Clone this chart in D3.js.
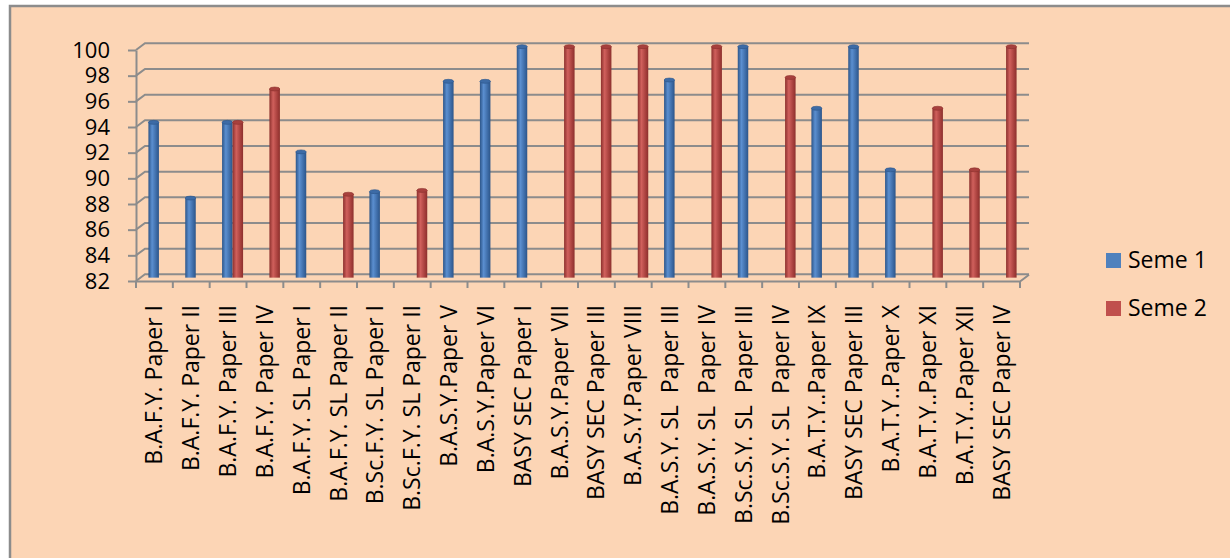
<!DOCTYPE html>
<html>
<head>
<meta charset="utf-8">
<script src="https://cdn.jsdelivr.net/npm/d3@7"></script>
<style>
  body { margin: 0; background: #fff; }
  text { font-family: "Open Sans", "Noto Sans", sans-serif; fill: #000; }
</style>
</head>
<body>
<div id="chart"></div>
<script>
const categories = [
  "B.A.F.Y. Paper I", "B.A.F.Y. Paper II", "B.A.F.Y. Paper III", "B.A.F.Y. Paper IV",
  "B.A.F.Y. SL Paper I", "B.A.F.Y. SL Paper II", "B.Sc.F.Y. SL Paper I", "B.Sc.F.Y. SL Paper II",
  "B.A.S.Y.Paper V", "B.A.S.Y.Paper VI", "BASY SEC Paper I", "B.A.S.Y.Paper VII",
  "BASY SEC Paper III", "B.A.S.Y.Paper VIII", "B.A.S.Y. SL  Paper III", "B.A.S.Y. SL  Paper IV",
  "B.Sc.S.Y. SL  Paper III", "B.Sc.S.Y. SL  Paper IV", "B.A.T.Y..Paper IX", "BASY SEC Paper III",
  "B.A.T.Y..Paper X", "B.A.T.Y..Paper XI", "B.A.T.Y..Paper XII", "BASY SEC Paper IV"
];
const seme1 = [94.1, 88.2, 94.1, null, 91.8, null, 88.7, null, 97.3, 97.3, 100, null,
               null, null, 97.4, null, 100, null, 95.2, 100, 90.4, null, null, null];
const seme2 = [null, null, 94.1, 96.7, null, 88.5, null, 88.8, null, null, null, 100,
               100, 100, null, 100, null, 97.6, null, null, null, 95.2, 90.4, 100];
const seriesNames = ["Seme 1", "Seme 2"];
const yTicks = [82, 84, 86, 88, 90, 92, 94, 96, 98, 100];

const width = 1230, height = 558;
const plotLeft = 136, plotRight = 1020, plotTop = 50, plotBottom = 281;
const dx = 9, dy = -6.7;   // 3d depth offset
const grid = "#8c8c8c";
const colors = { "Seme 1": ["#2c5589", "#5b8fd0", "#3d6ba6"], "Seme 2": ["#8c302d", "#d0605c", "#a8403d"] };
const fontSize = 23;

const svg = d3.select("#chart").append("svg")
  .attr("width", width)
  .attr("height", height)

svg.append("rect")
  .attr("x", 10).attr("y", 6)
  .attr("width", width + 10).attr("height", height + 10)
  .attr("fill", "#FCD5B5")
  .attr("stroke", grid).attr("stroke-width", 2.5)

const defs = svg.append("defs")
seriesNames.forEach((s, i) => {
  const g = defs.append("linearGradient").attr("id", "cyl" + i)
    .attr("x1", 0).attr("x2", 1).attr("y1", 0).attr("y2", 0)
  g.append("stop").attr("offset", "0%").attr("stop-color", colors[s][0])
  g.append("stop").attr("offset", "35%").attr("stop-color", colors[s][1])
  g.append("stop").attr("offset", "75%").attr("stop-color", colors[s][2])
  g.append("stop").attr("offset", "100%").attr("stop-color", colors[s][0])
})

// categories repeat ("BASY SEC Paper III"), so the band scale works on indices
const idx = d3.range(categories.length)
const x = d3.scaleBand().domain(idx).range([plotLeft, plotRight])
const y = d3.scaleLinear().domain([82, 100]).range([plotBottom, plotTop])
const xSub = d3.scaleBand().domain(seriesNames).range([-10.5, 10.5])

// back wall gridlines with side-wall diagonals
svg.append("g").selectAll("path")
  .data(yTicks)
  .enter()
  .append("path")
  .attr("d", d => `M${plotLeft},${y(d)}L${plotLeft + dx},${y(d) + dy}L${plotRight + dx},${y(d) + dy}`)
  .attr("fill", "none")
  .attr("stroke", grid)
  .attr("stroke-width", 2)

// y axis
const yAxis = d3.axisLeft(y).tickValues(yTicks).tickSize(8).tickPadding(18).tickSizeOuter(0)
const ya = svg.append("g")
  .attr("transform", `translate(${plotLeft},0)`)
  .call(yAxis)
ya.selectAll("line, path").attr("stroke", grid).attr("stroke-width", 2)
ya.selectAll("text")
  .style("font-size", "22px")
  .style("font-family", '"Open Sans", sans-serif')
  .attr("fill", "#000")

// bars
const bars = [];
idx.forEach(i => {
  [seme1, seme2].forEach((arr, j) => {
    if (arr[i] != null) bars.push({ i: i, series: seriesNames[j], s: j, value: arr[i] })
  })
})
const bw = xSub.bandwidth()
const barG = svg.append("g")
  .selectAll("g")
  .data(bars)
  .enter()
  .append("g")
  .attr("transform", d => `translate(${x(d.i) + x.bandwidth() / 2 + xSub(d.series) + dx / 2},${dy / 2})`)

barG.append("rect")
  .attr("x", 0)
  .attr("width", bw)
  .attr("y", d => y(d.value))
  .attr("height", d => y(82) - y(d.value))
  .attr("fill", d => `url(#cyl${d.s})`)

barG.append("ellipse")
  .attr("cx", bw / 2)
  .attr("cy", d => y(d.value))
  .attr("rx", bw / 2)
  .attr("ry", 2)
  .attr("fill", d => colors[d.series][2])
  .attr("stroke", d => colors[d.series][0])
  .attr("stroke-width", 0.6)

// floor front edge and ticks
const edges = idx.map(i => x(i)).concat([plotRight])
svg.append("path")
  .attr("d", `M${plotLeft},${plotBottom + 0.5}L${plotRight},${plotBottom + 0.5}L${plotRight + dx},${plotBottom + 0.5 + dy}`)
  .attr("fill", "none").attr("stroke", grid).attr("stroke-width", 2)
svg.append("g").selectAll("line")
  .data(edges)
  .enter()
  .append("line")
  .attr("x1", d => d).attr("x2", d => d)
  .attr("y1", plotBottom).attr("y2", plotBottom + 7)
  .attr("stroke", grid).attr("stroke-width", 2)

// category labels
svg.append("g").selectAll("text")
  .data(idx)
  .enter()
  .append("text")
  .attr("transform", i => `translate(${x(i) + x.bandwidth() / 2 + 8},305) rotate(-90)`)
  .attr("text-anchor", "end")
  .style("font-size", fontSize + "px")
  .style("white-space", "pre")
  .text(i => categories[i])

// legend
const leg = svg.append("g").selectAll("g")
  .data(seriesNames)
  .enter()
  .append("g")
  .attr("transform", (d, i) => `translate(1106,${253 + i * 48})`)
leg.append("rect")
  .attr("width", 15).attr("height", 15)
  .attr("fill", (d, i) => i == 0 ? "#4F81BD" : "#C0504D")
leg.append("text")
  .attr("x", 22).attr("y", 15)
  .style("font-size", fontSize + "px")
  .text(d => d)
</script>
</body>
</html>
